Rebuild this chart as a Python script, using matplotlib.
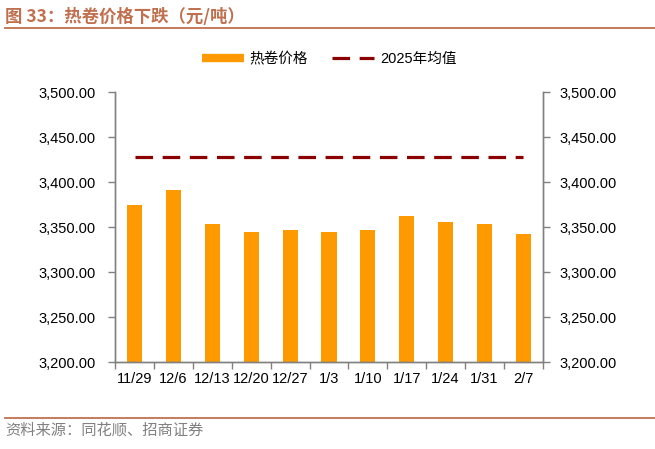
import matplotlib.pyplot as plt
from matplotlib.ticker import FuncFormatter, FixedLocator
import numpy as np

plt.rcParams['font.family'] = ['Liberation Sans', 'Noto Sans CJK SC', 'DejaVu Sans']

# data
dates = ['11/29', '12/6', '12/13', '12/20', '12/27', '1/3', '1/10', '1/17', '1/24', '1/31', '2/7']
price = [3375, 3391, 3354, 3345, 3347, 3345, 3347, 3363, 3356, 3354, 3343]
avg_2025 = 3428

title_color = '#C0704F'
gray = '#808080'

fig = plt.figure(figsize=(6.55, 4.49), dpi=100)
ax = fig.add_axes([0.176, 0.193, 0.6526, 0.6014])

x = np.arange(len(dates))
bars = ax.bar(x, price, width=0.39, color='#FF9900', label='热卷价格', zorder=2)
line, = ax.plot(x, [avg_2025] * len(x), color='#8B0000', lw=2.3, dashes=(5.5, 3),
                label='2025年均值', zorder=3)

ax.set_xlim(-0.5, len(dates) - 0.5)
ax.set_ylim(3200, 3500)
ax.set_yticks(np.arange(3200, 3501, 50))
ax.yaxis.set_major_formatter(FuncFormatter(lambda v, p: f'{v:,.2f}'))

# x tick labels at categories, tick marks at boundaries
ax.set_xticks(x)
ax.set_xticklabels(dates)
ax.xaxis.set_minor_locator(FixedLocator(np.arange(-0.5, len(dates), 1)))
ax.tick_params(axis='x', which='major', length=0, pad=7, labelsize=10.5)
ax.tick_params(axis='x', which='minor', length=5, color=gray, width=1)

# right axis mirror
ax2 = ax.twinx()
ax2.set_ylim(ax.get_ylim())
ax2.set_yticks(np.arange(3200, 3501, 50))
ax2.yaxis.set_major_formatter(FuncFormatter(lambda v, p: f'{v:,.2f}'))

ax.tick_params(axis='y', length=5, color=gray, width=1, pad=9, labelsize=10.5)
ax2.tick_params(axis='y', length=5, color=gray, width=1, pad=7, labelsize=10.5)

for a in (ax, ax2):
    a.spines['top'].set_visible(False)
    for s in ('left', 'right', 'bottom'):
        a.spines[s].set_color(gray)
        a.spines[s].set_linewidth(1)

bar_handle = plt.Line2D([], [], color='#FF9900', lw=6, solid_capstyle='butt')
ax2.legend([bar_handle, line], ['热卷价格', '2025年均值'], loc='center',
           bbox_to_anchor=(0.5, 1.123), ncol=2, frameon=False,
           fontsize=10.5, handlelength=2.9, columnspacing=1.6, handletextpad=0.4)

# title and header line
fig.text(0.008, 0.963, '图 33：热卷价格下跌（元/吨）', fontsize=12.5, fontweight='bold',
         color=title_color, va='center', family=['Noto Sans CJK SC', 'DejaVu Sans'])
fig.add_artist(plt.Line2D([0.008, 1.0], [0.937, 0.937], color=title_color, lw=1.3))

# footer
fig.add_artist(plt.Line2D([0.008, 1.0], [0.069, 0.069], color=title_color, lw=1.3))
fig.text(0.008, 0.042, '资料来源：同花顺、招商证券', fontsize=11, color=gray,
         va='center', family=['Noto Sans CJK SC', 'DejaVu Sans'])

fig.savefig('out.png', dpi=100)
